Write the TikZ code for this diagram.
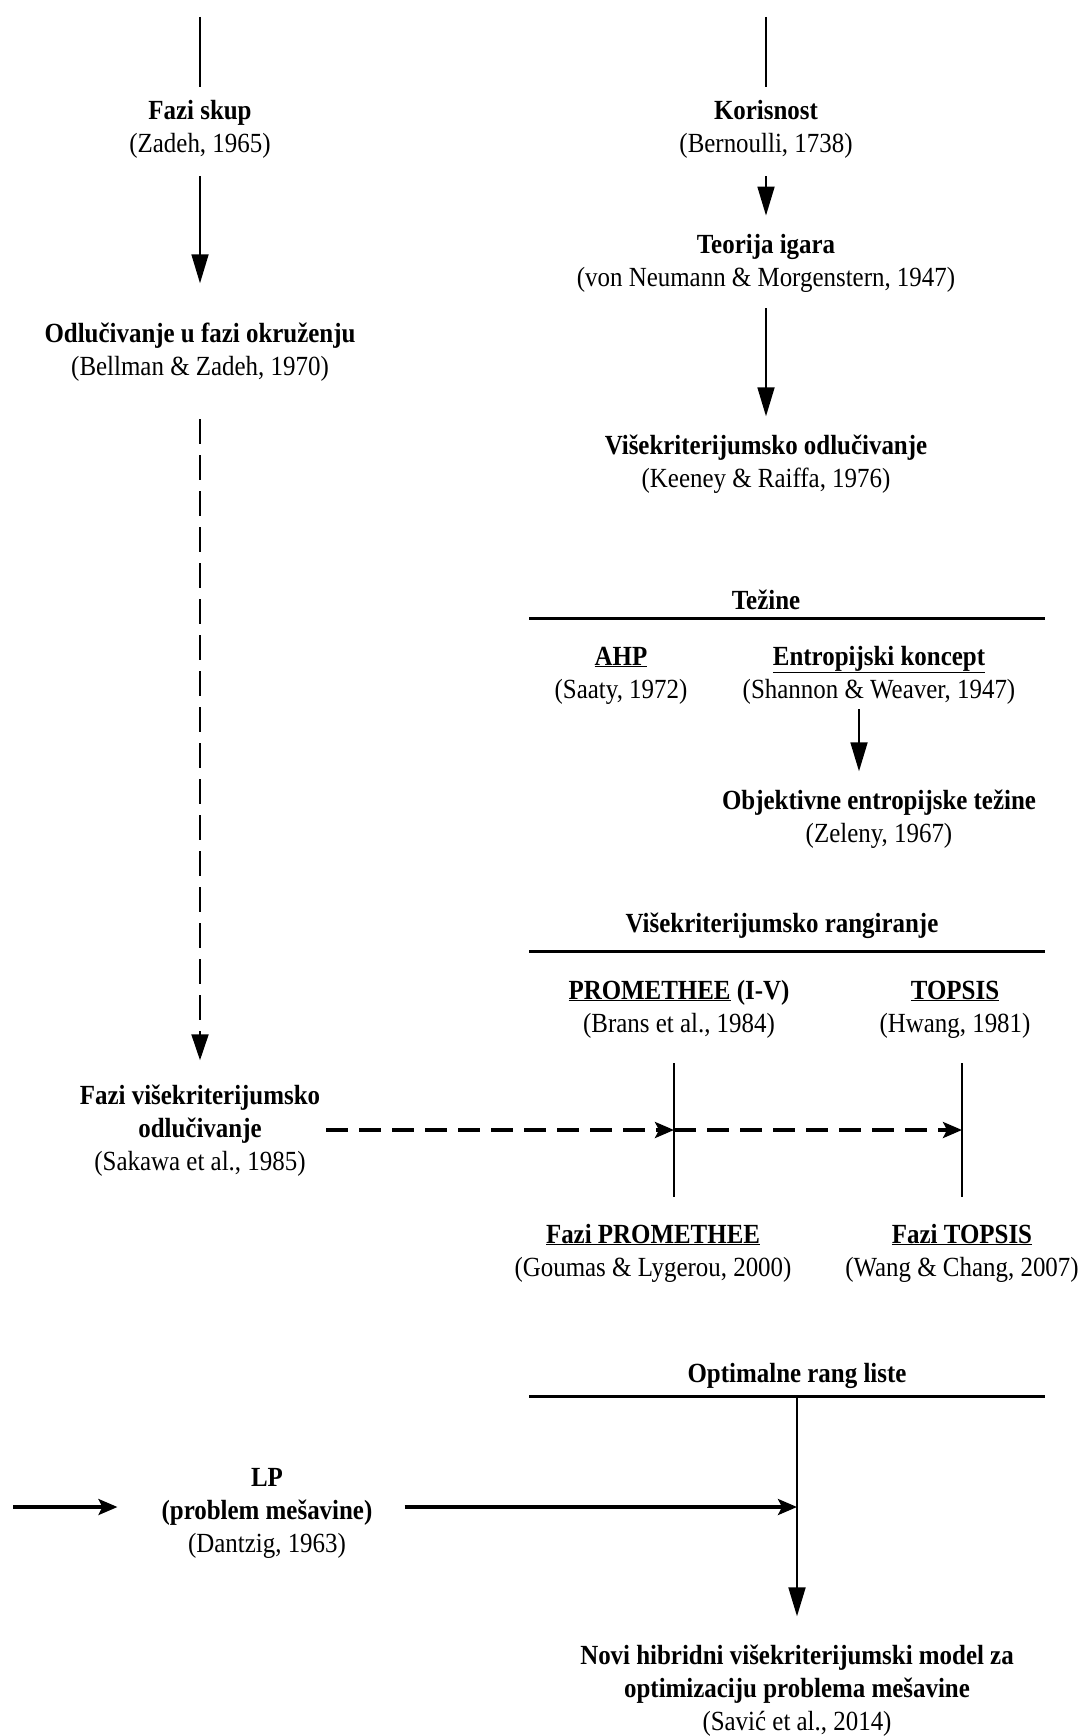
\documentclass[tikz,border=0pt]{standalone}
\usepackage{fontspec}
\setmainfont{Liberation Serif}[FakeStretch=0.9]
\usetikzlibrary{arrows.meta}
\begin{document}
\begin{tikzpicture}[x=1pt,y=-1pt,
  lbl/.style={inner sep=0pt,align=center,anchor=base,font=\fontsize{27.7}{33}\selectfont},
  conn/.style={line width=1.8pt,-{Triangle[length=29pt,width=17pt]}},
  plain/.style={line width=1.8pt},
  bar/.style={line width=3pt},
  vdash/.style={line width=2pt,dash pattern=on 25pt off 11pt,-{Triangle[length=26pt,width=17pt]}},
  hdash/.style={line width=3.2pt,dash pattern=on 22pt off 11pt,-{Stealth[length=19pt,width=16pt,inset=4pt]}},
  harrow/.style={line width=3.2pt,-{Stealth[length=19pt,width=16pt,inset=4pt]}}]
\useasboundingbox (0,0) rectangle (1083,1736);

% nodes (anchor = baseline of the last line)
\node[lbl] (fazi) at (200,153) {\textbf{Fazi skup}\\(Zadeh, 1965)};
\node[lbl] (odl) at (200,375) {\textbf{Odlučivanje u fazi okruženju}\\(Bellman \& Zadeh, 1970)};
\node[lbl] (koris) at (766,153) {\textbf{Korisnost}\\(Bernoulli, 1738)};
\node[lbl] (teor) at (766,287) {\textbf{Teorija igara}\\(von Neumann \& Morgenstern, 1947)};
\node[lbl] (visek) at (766,487) {\textbf{Višekriterijumsko odlučivanje}\\(Keeney \& Raiffa, 1976)};
\node[lbl] (tez) at (766,609) {\textbf{Težine}};
\node[lbl] (ahp) at (621,698) {\underline{\textbf{AHP}}\\(Saaty, 1972)};
\node[lbl] (entr) at (879,698) {\underline{\textbf{Entropijski koncept}}\\(Shannon \& Weaver, 1947)};
\node[lbl] (objek) at (879,842) {\textbf{Objektivne entropijske težine}\\(Zeleny, 1967)};
\node[lbl] (rang) at (782,932) {\textbf{Višekriterijumsko rangiranje}};
\node[lbl] (prom) at (679,1032) {\underline{\textbf{PROMETHEE}} \textbf{(I-V)}\\(Brans et al., 1984)};
\node[lbl] (tops) at (955,1032) {\underline{\textbf{TOPSIS}}\\(Hwang, 1981)};
\node[lbl] (fvk) at (200,1170) {\textbf{Fazi višekriterijumsko}\\\textbf{odlučivanje}\\(Sakawa et al., 1985)};
\node[lbl] (fprom) at (653,1276) {\underline{\textbf{Fazi PROMETHEE}}\\(Goumas \& Lygerou, 2000)};
\node[lbl] (ftop) at (962,1276) {\underline{\textbf{Fazi TOPSIS}}\\(Wang \& Chang, 2007)};
\node[lbl] (opt) at (797,1382) {\textbf{Optimalne rang liste}};
\node[lbl] (lp) at (267,1552) {\textbf{LP}\\\textbf{(problem mešavine)}\\(Dantzig, 1963)};
\node[lbl] (novi) at (797,1730) {\textbf{Novi hibridni višekriterijumski model za}\\\textbf{optimizaciju problema mešavine}\\(Savić et al., 2014)};

% coordinates for free ends and bars
\coordinate (tl) at (200,17);
\coordinate (tr) at (766,17);
\coordinate (tzA) at (529,618);
\coordinate (tzB) at (1045,618);
\coordinate (rgA) at (529,951);
\coordinate (rgB) at (1045,951);
\coordinate (opA) at (529,1396);
\coordinate (opB) at (1045,1396);
\coordinate (opM) at (797,1396);
\coordinate (ex) at (859,0);
\coordinate (pv1) at (674,1063);
\coordinate (pv2) at (674,1197);
\coordinate (tv1) at (962,1063);
\coordinate (tv2) at (962,1197);
\coordinate (pm) at (674,1130);
\coordinate (tm) at (962,1130);
\coordinate (lpin) at (13,1507);
\coordinate (lpout) at (797,1507);

% connectors
\draw[plain,shorten >=14pt] (tl) -- (fazi.north);
\draw[plain,shorten >=14pt] (tr) -- (koris.north);
\draw[conn,shorten <=17pt,shorten >=39pt] (fazi.south) -- (odl.north);
\draw[vdash,shorten <=38pt,shorten >=24pt] (odl.south) -- (fvk.north);
\draw[conn,shorten <=17pt,shorten >=19pt] (koris.south) -- (teor.north);
\draw[conn,shorten <=15pt,shorten >=18pt] (teor.south) -- (visek.north);
\draw[conn,shorten <=5pt,shorten >=18pt] (entr.south -| ex) -- (objek.north -| ex);

\draw[bar] (tzA) -- (tzB);
\draw[bar] (rgA) -- (rgB);
\draw[bar] (opA) -- (opB);

\draw[plain] (pv1) -- (pv2);
\draw[plain] (tv1) -- (tv2);
\draw[hdash,shorten <=6pt] (fvk.east |- pm) -- (pm);
\draw[hdash] (pm) -- (tm);

\draw[harrow,shorten >=44pt] (lpin) -- (lp.west |- lpin);
\draw[harrow,shorten <=32pt] (lp.east |- lpout) -- (lpout);
\draw[conn,line width=2pt,shorten >=28pt] (opM) -- (novi.north);
\end{tikzpicture}
\end{document}
